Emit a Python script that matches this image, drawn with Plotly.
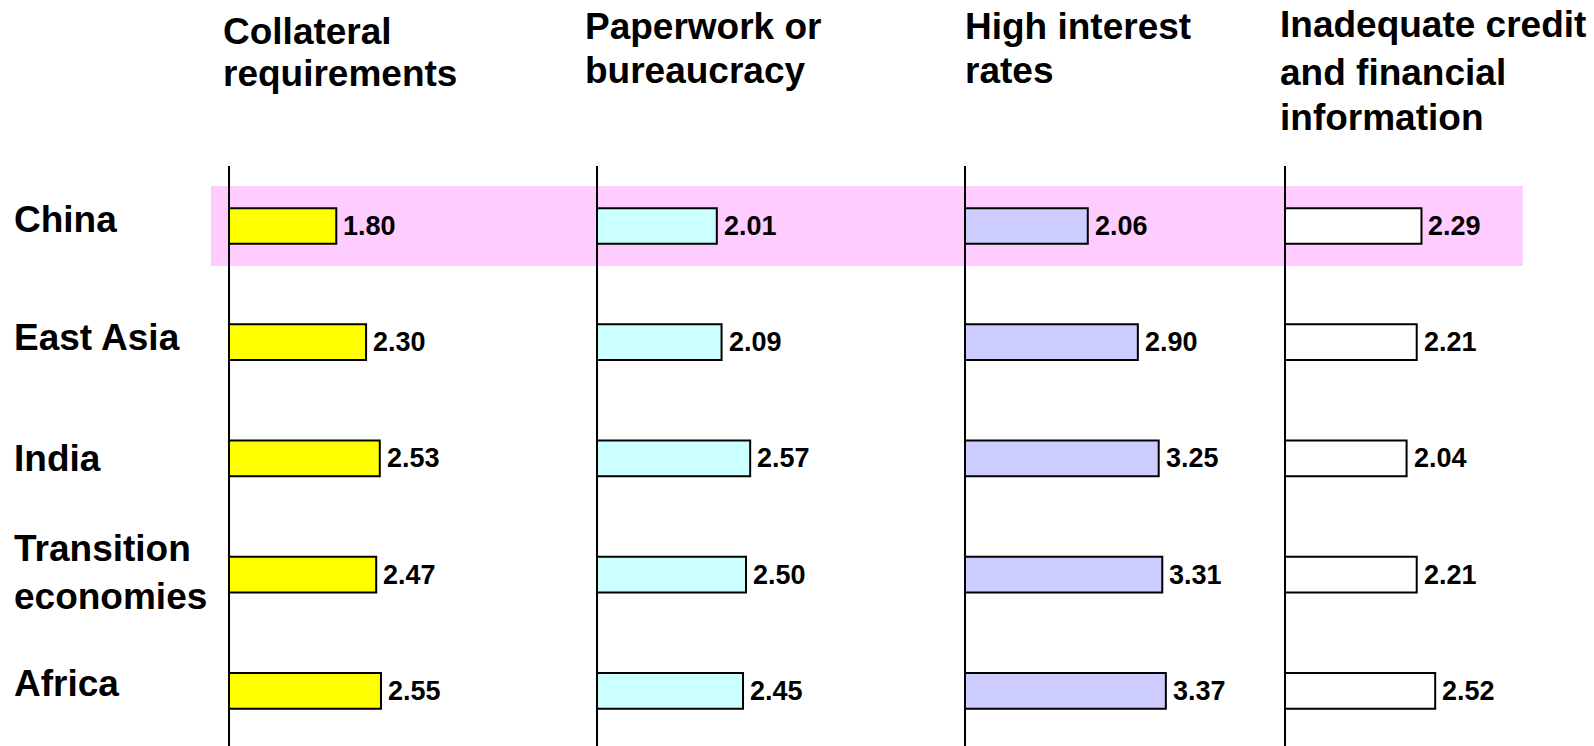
import plotly.graph_objects as go

W, H = 1594, 746

regions = ["China", "East Asia", "India", "Transition economies", "Africa"]
region_labels = ["China", "East Asia", "India", "Transition<br>economies", "Africa"]

panel_titles = [
    ["Collateral", "requirements"],
    ["Paperwork or", "bureaucracy"],
    ["High interest", "rates"],
    ["Inadequate credit", "and financial", "information"],
]

collateral = [1.80, 2.30, 2.53, 2.47, 2.55]
paperwork = [2.01, 2.09, 2.57, 2.50, 2.45]
interest = [2.06, 2.90, 3.25, 3.31, 3.37]
credit_info = [2.29, 2.21, 2.04, 2.21, 2.52]

series = [collateral, paperwork, interest, credit_info]
colors = ["#FFFF00", "#CCFFFF", "#CCCCFF", "#FFFFFF"]

# layout geometry (pixels)
axis_px = [229, 597, 965, 1285]
ppu = 59.6
xpad = 0.2
xmax = 5.0
top_px = 166
row0_px = 226.0
row_step = 116.2
title_x = [221, 583, 963, 1278]
title_baselines = [[44, 86.5], [39.5, 83.5], [39.5, 83.5], [37.3, 85, 130.5]]
label_yshift = [7, 5, 0, 2, 7]

FONT = "Liberation Sans, Arial, sans-serif"
big = 37
small = 27

fig = go.Figure()
layout = dict(
    width=W, height=H, margin=dict(l=0, r=0, t=0, b=0),
    template="none", paper_bgcolor="white", plot_bgcolor="rgba(0,0,0,0)",
    showlegend=False,
)

y_top_val = -(row0_px - top_px) / row_step
y_bot_val = (H - row0_px) / row_step
annotations = []

for i, (vals, col) in enumerate(zip(series, colors)):
    n = "" if i == 0 else str(i + 1)
    fig.add_trace(go.Bar(
        x=vals, y=regions, orientation="h", width=0.307,
        marker=dict(color=col, line=dict(color="black", width=2)),
        xaxis="x" + n, yaxis="y" + n, hoverinfo="skip",
    ))
    d0 = (axis_px[i] - xpad * ppu) / W
    d1 = (axis_px[i] + xmax * ppu) / W
    layout["xaxis" + n] = dict(
        domain=[d0, d1], range=[-xpad, xmax], anchor="y" + n,
        showticklabels=False, showgrid=False, ticks="", showline=False,
        zeroline=True, zerolinecolor="black", zerolinewidth=2,
        fixedrange=True,
    )
    layout["yaxis" + n] = dict(
        domain=[0, 1 - top_px / H], range=[y_bot_val, y_top_val],
        anchor="x" + n, type="category", categoryorder="array",
        categoryarray=regions, showticklabels=False, showgrid=False,
        ticks="", showline=False, zeroline=False, fixedrange=True,
    )
    for r, v in zip(regions, vals):
        annotations.append(dict(
            x=v, y=r, xref="x" + n, yref="y" + n, text=f"{v:.2f}",
            showarrow=False, xanchor="left", yanchor="middle", xshift=5,
            font=dict(family=FONT, size=small, color="black", weight="bold"),
        ))
    for line, bl in zip(panel_titles[i], title_baselines[i]):
        annotations.append(dict(
            x=title_x[i] / W, y=1 - (bl - 0.3465 * big) / H,
            xref="paper", yref="paper", text=line, showarrow=False,
            xanchor="left", yanchor="middle",
            font=dict(family=FONT, size=big, color="black", weight="bold"),
        ))

for r, lab, ys in zip(regions, region_labels, label_yshift):
    annotations.append(dict(
        x=12 / W, y=r, xref="paper", yref="y", text=lab, showarrow=False,
        xanchor="left", yanchor="middle", yshift=ys, align="left",
        font=dict(family=FONT, size=big, color="black", weight="bold"),
    ))

layout["annotations"] = annotations
layout["shapes"] = [dict(
    type="rect", xref="paper", yref="paper",
    x0=211 / W, x1=1522.7 / W, y0=1 - 266 / H, y1=1 - 186 / H,
    fillcolor="#FFCCFF", line=dict(width=0), layer="below",
)]

fig.update_layout(**layout)
fig.write_html("out.html")
